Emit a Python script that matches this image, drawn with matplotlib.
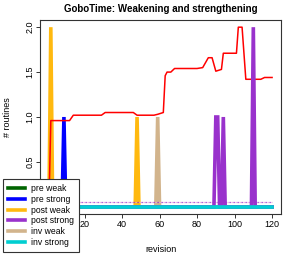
import matplotlib
matplotlib.use('Agg')
import matplotlib.pyplot as plt
import numpy as np

plt.rcParams['font.family'] = ['Liberation Sans', 'DejaVu Sans']

revisions = np.arange(1, 121)

# spikes per series: revision -> count (all other revisions are 0)
pre_weak = {}
pre_strong = {9: 1}
post_weak = {2: 2, 48: 1}
post_strong = {90: 1, 91: 1, 94: 1, 110: 2}
inv_weak = {59: 1}
inv_strong = {}

# mean line breakpoints
mean_rev = [1, 2, 12, 14, 29, 31, 46, 48, 57, 59, 62, 63, 64, 66, 68, 80, 83, 86, 88,
            90, 93, 94, 101, 102, 104, 106, 114, 116, 120]
mean_val = [0.0, 0.96, 0.96, 1.02, 1.02, 1.05, 1.05, 1.02, 1.02, 1.03, 1.05, 1.46, 1.50,
            1.50, 1.54, 1.54, 1.55, 1.66, 1.66, 1.51, 1.53, 1.71, 1.71, 2.0, 2.0, 1.42,
            1.42, 1.44, 1.44]

threshold = 0.05

labels = ['pre weak', 'pre strong', 'post weak', 'post strong', 'inv weak', 'inv strong']
colors = ['#006400', '#0000FF', '#FFB90F', '#9932CC', '#D2B48C', '#00CED1']
series = [pre_weak, pre_strong, post_weak, post_strong, inv_weak, inv_strong]


def counts(d):
    return np.array([d.get(r, 0) for r in revisions])


fig = plt.figure(figsize=(2.94, 2.54), dpi=100)
ax = fig.add_axes([40 / 294, 40 / 254, 241 / 294, 194 / 254])

lw = 2.6
handles = []
for name, col, d in zip(labels, colors, series):
    z = 3 if name == 'post strong' else 1
    h, = ax.plot(revisions, counts(d), color=col, lw=lw, label=name, zorder=z,
                 solid_joinstyle='miter')
    handles.append(h)

ax.plot(mean_rev, mean_val, color='#FF0000', lw=1.1, zorder=2)

# dotted threshold lines
ax.plot([revisions[0], revisions[-1]], [threshold, threshold], color='#9932CC', lw=0.9,
        ls=(0, (1, 2.2)), zorder=2)
ax.plot([revisions[0], revisions[-1]], [threshold, threshold], color='#E6A8E0', lw=0.9,
        ls=(1.6, (1, 2.2)), zorder=2)
# redraw the flat cyan on top
ax.plot(revisions, counts(inv_strong), color='#00CED1', lw=lw, zorder=4)

ax.set_xlim(1 - 0.04 * 119, 120 + 0.04 * 119)
ax.set_ylim(-0.08, 2.08)
ax.set_xticks([20, 40, 60, 80, 100, 120])
ax.set_yticks([0.5, 1.0, 1.5, 2.0])
ax.set_yticklabels(['0.5', '1.0', '1.5', '2.0'], rotation=90, va='center')
ax.tick_params(labelsize=6.5, length=3, width=0.7, color='#333333', pad=1)
for s in ax.spines.values():
    s.set_linewidth(0.8)
    s.set_color('#333333')

ax.set_title('GoboTime: Weakening and strengthening', fontsize=7, fontweight='bold', pad=6)
ax.set_xlabel('revision', fontsize=6.5, labelpad=12)
ax.set_ylabel('# routines', fontsize=6.5, labelpad=10)

leg = fig.legend(handles=handles, labels=labels, loc='lower left',
                 bbox_to_anchor=(3 / 294, 2 / 254), fontsize=6.2, frameon=True,
                 fancybox=False, framealpha=1, edgecolor='#333333',
                 handlelength=1.9, handletextpad=0.75, labelspacing=0.2, borderpad=0.6,
                 borderaxespad=0)
leg.get_frame().set_linewidth(0.8)
leg.set_zorder(10)

fig.savefig('out.png', dpi=100)
